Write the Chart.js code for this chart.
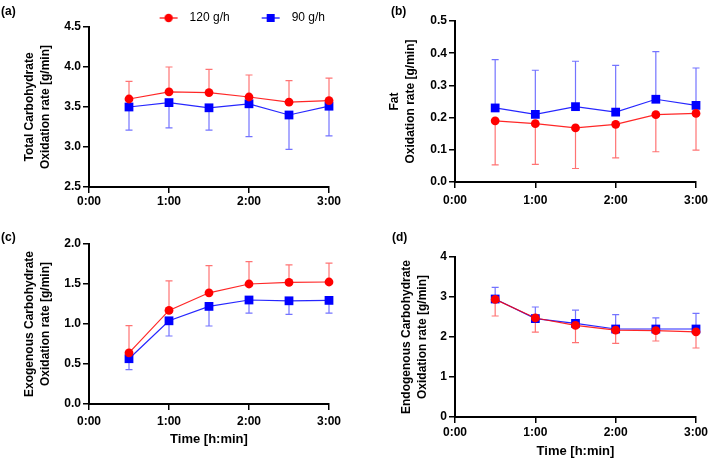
<!DOCTYPE html>
<html>
<head>
<meta charset="utf-8">
<script src="https://cdn.jsdelivr.net/npm/chart.js@4.4.1/dist/chart.umd.min.js"></script>
<style>
  html, body { margin: 0; padding: 0; background: #fff; }
  #wrap { position: relative; width: 709px; height: 461px; overflow: hidden; }
  canvas { position: absolute; }
  .tag { position: absolute; font: bold 12px 'Liberation Sans', Arial, sans-serif; color: #000; line-height: 14px; }
</style>
</head>
<body>
<div id="wrap">
  <canvas id="cA" width="354" height="230" style="left:0;top:0"></canvas>
  <canvas id="cB" width="355" height="230" style="left:354px;top:0"></canvas>
  <canvas id="cC" width="354" height="231" style="left:0;top:230px"></canvas>
  <canvas id="cD" width="355" height="231" style="left:354px;top:230px"></canvas>
  <div class="tag" style="left:1px;top:4px">(a)</div>
  <div class="tag" style="left:391px;top:4px">(b)</div>
  <div class="tag" style="left:1px;top:230px">(c)</div>
  <div class="tag" style="left:392px;top:230px">(d)</div>
</div>
<script>
// ---- data (mean and one-sided SD) ----
const timesMin = [30, 60, 90, 120, 150, 180];
const xTickLabels = ['0:00', '1:00', '2:00', '3:00'];
const seriesNames = ['120 g/h', '90 g/h'];

const totalCho120   = [3.60, 3.69, 3.68, 3.625, 3.56, 3.58];
const totalCho120Sd = [0.22, 0.31, 0.29, 0.275, 0.27, 0.28];
const totalCho90    = [3.50, 3.555, 3.49, 3.54, 3.40, 3.51];
const totalCho90Sd  = [0.29, 0.315, 0.28, 0.41, 0.43, 0.37];

const fat120   = [0.190, 0.181, 0.168, 0.179, 0.209, 0.213];
const fat120Sd = [0.137, 0.126, 0.126, 0.104, 0.115, 0.114];
const fat90    = [0.230, 0.210, 0.234, 0.217, 0.257, 0.238];
const fat90Sd  = [0.150, 0.137, 0.141, 0.145, 0.148, 0.116];

const exoCho120   = [0.64, 1.17, 1.39, 1.50, 1.52, 1.525];
const exoCho120Sd = [0.34, 0.37, 0.34, 0.28, 0.22, 0.235];
const exoCho90    = [0.566, 1.04, 1.22, 1.30, 1.29, 1.295];
const exoCho90Sd  = [0.136, 0.19, 0.245, 0.165, 0.17, 0.16];

const endoCho120   = [2.94, 2.475, 2.29, 2.17, 2.16, 2.13];
const endoCho120Sd = [0.415, 0.355, 0.43, 0.33, 0.26, 0.405];
const endoCho90    = [2.95, 2.46, 2.34, 2.20, 2.20, 2.20];
const endoCho90Sd  = [0.29, 0.29, 0.33, 0.36, 0.28, 0.39];

// ---- styling ----
const FONT = "'Liberation Sans', Arial, sans-serif";
const RED = 'rgb(255,0,0)';
const BLUE = 'rgb(0,0,255)';
Chart.defaults.color = '#000';
Chart.defaults.font.family = FONT;

const toPts = vals => vals.map((v, i) => ({ x: timesMin[i], y: v }));

// one-sided SD whiskers, drawn beneath the lines and symbols
const errorBars = {
  id: 'errorBars',
  beforeDatasetsDraw(chart) {
    const { ctx, scales: { x, y } } = chart;
    chart.data.datasets.forEach(ds => {
      ctx.save();
      ctx.strokeStyle = ds.errColor;
      ctx.lineWidth = 1.2;
      ds.data.forEach((p, i) => {
        const px = x.getPixelForValue(p.x);
        const y0 = y.getPixelForValue(p.y);
        const y1 = y.getPixelForValue(p.y + ds.errDir * ds.sd[i]);
        ctx.beginPath();
        ctx.moveTo(px, y0); ctx.lineTo(px, y1);
        ctx.moveTo(px - 3.5, y1); ctx.lineTo(px + 3.5, y1);
        ctx.stroke();
      });
      ctx.restore();
    });
  }
};

// legend icon: short line with the symbol in the middle (right part of the box)
const ICON_W = 52;
function legendIcon(color, shape) {
  const c = document.createElement('canvas');
  c.width = ICON_W; c.height = 12;
  const g = c.getContext('2d');
  g.strokeStyle = color; g.lineWidth = 1.2;
  g.beginPath(); g.moveTo(ICON_W - 24, 6); g.lineTo(ICON_W - 6, 6); g.stroke();
  g.fillStyle = color;
  if (shape === 'circle') { g.beginPath(); g.arc(ICON_W - 15, 6, 4.2, 0, Math.PI * 2); g.fill(); }
  else g.fillRect(ICON_W - 19, 2, 8, 8);
  return c;
}
const legendIcons = [legendIcon(RED, 'circle'), legendIcon(BLUE, 'rect')];

function makePanel(id, o) {
  const datasets = [
    {
      label: seriesNames[0], data: toPts(o.red), sd: o.redSd, errDir: o.redDir,
      errColor: 'rgba(255,0,0,0.55)', borderColor: 'rgba(255,0,0,0.85)', borderWidth: 1.2,
      pointStyle: 'circle', pointRadius: 4.4, pointBackgroundColor: RED, pointBorderWidth: 0,
      clip: false
    },
    {
      label: seriesNames[1], data: toPts(o.blue), sd: o.blueSd, errDir: o.blueDir,
      errColor: 'rgba(0,0,255,0.55)', borderColor: 'rgba(0,0,255,0.85)', borderWidth: 1.2,
      pointStyle: 'rect', pointRadius: 6.2, pointBackgroundColor: BLUE, pointBorderWidth: 0,
      clip: false
    }
  ];

  return new Chart(document.getElementById(id), {
    type: 'line',
    data: { datasets },
    plugins: [errorBars],
    options: {
      responsive: false,
      animation: false,
      events: [],
      layout: { padding: { top: o.padTop, right: o.padRight, bottom: 0, left: 0 } },
      plugins: {
        tooltip: { enabled: false },
        legend: o.legend ? {
          display: true,
          position: 'top',
          align: 'end',
          maxHeight: o.legendH,
          labels: {
            usePointStyle: true,
            pointStyleWidth: ICON_W,
            padding: 4,
            font: { size: 12, family: FONT },
            color: '#000',
            generateLabels: chart =>
              Chart.defaults.plugins.legend.labels.generateLabels(chart)
                .map((it, i) => ({ ...it, pointStyle: legendIcons[i], fontColor: '#000' }))
          }
        } : { display: false }
      },
      scales: {
        x: {
          type: 'linear', min: 0, max: 180,
          afterFit: s => { s.height = o.xH; s.paddingLeft = 0; s.paddingRight = 0; },
          ticks: {
            stepSize: 60, padding: o.xTickPad, maxRotation: 0,
            font: { size: 12, weight: 'bold', family: FONT },
            callback: v => xTickLabels[Math.round(v / 60)]
          },
          grid: { drawOnChartArea: false, drawTicks: true, tickLength: 6, color: '#000', lineWidth: 1.5 },
          border: { display: true, color: '#000', width: 2 },
          title: o.xTitle ? {
            display: true, text: 'Time [h:min]',
            font: { size: 13, weight: 'bold', family: FONT, lineHeight: 1.2 },
            padding: { top: 0, bottom: o.xTitlePad }
          } : { display: false }
        },
        y: {
          min: o.yMin, max: o.yMax,
          afterFit: s => { s.width = o.yW; s.paddingTop = 0; s.paddingBottom = 0; },
          ticks: {
            stepSize: o.yStep, padding: 2,
            font: { size: 12, weight: 'bold', family: FONT },
            callback: v => v.toFixed(o.yDec)
          },
          grid: { drawOnChartArea: false, drawTicks: true, tickLength: 6, color: '#000', lineWidth: 1.5 },
          border: { display: true, color: '#000', width: 2 },
          title: {
            display: true, text: o.yTitle,
            font: { size: 12, weight: 'bold', family: FONT, lineHeight: 1.3 },
            padding: { top: o.yTitlePad, bottom: 0 }
          }
        }
      }
    }
  });
}

makePanel('cA', {
  red: totalCho120, redSd: totalCho120Sd, redDir: 1,
  blue: totalCho90, blueSd: totalCho90Sd, blueDir: -1,
  yMin: 2.5, yMax: 4.5, yStep: 0.5, yDec: 1,
  yTitle: ['Total Carbohydrate', 'Oxidation rate [g/min]'], yTitlePad: 22,
  legend: true, legendH: 19, padTop: 8, padRight: 25,
  yW: 89, xH: 43, xTickPad: 1.5, xTitle: false
});
makePanel('cB', {
  red: fat120, redSd: fat120Sd, redDir: -1,
  blue: fat90, blueSd: fat90Sd, blueDir: 1,
  yMin: 0, yMax: 0.5, yStep: 0.1, yDec: 1,
  yTitle: ['Fat', 'Oxidation rate [g/min]'], yTitlePad: 33,
  legend: false, padTop: 21, padRight: 13,
  yW: 101, xH: 48, xTickPad: 5.5, xTitle: false
});
makePanel('cC', {
  red: exoCho120, redSd: exoCho120Sd, redDir: 1,
  blue: exoCho90, blueSd: exoCho90Sd, blueDir: -1,
  yMin: 0, yMax: 2, yStep: 0.5, yDec: 1,
  yTitle: ['Exogenous Carbohydrate', 'Oxidation rate [g/min]'], yTitlePad: 22,
  legend: false, padTop: 14, padRight: 25,
  yW: 89, xH: 57, xTickPad: 4.5, xTitle: true, xTitlePad: 14
});
makePanel('cD', {
  red: endoCho120, redSd: endoCho120Sd, redDir: -1,
  blue: endoCho90, blueSd: endoCho90Sd, blueDir: 1,
  yMin: 0, yMax: 4, yStep: 1, yDec: 0,
  yTitle: ['Endogenous Carbohydrate', 'Oxidation rate [g/min]'], yTitlePad: 45,
  legend: false, padTop: 27, padRight: 13,
  yW: 101, xH: 44, xTickPad: 2.5, xTitle: true, xTitlePad: 2
});
</script>
</body>
</html>
